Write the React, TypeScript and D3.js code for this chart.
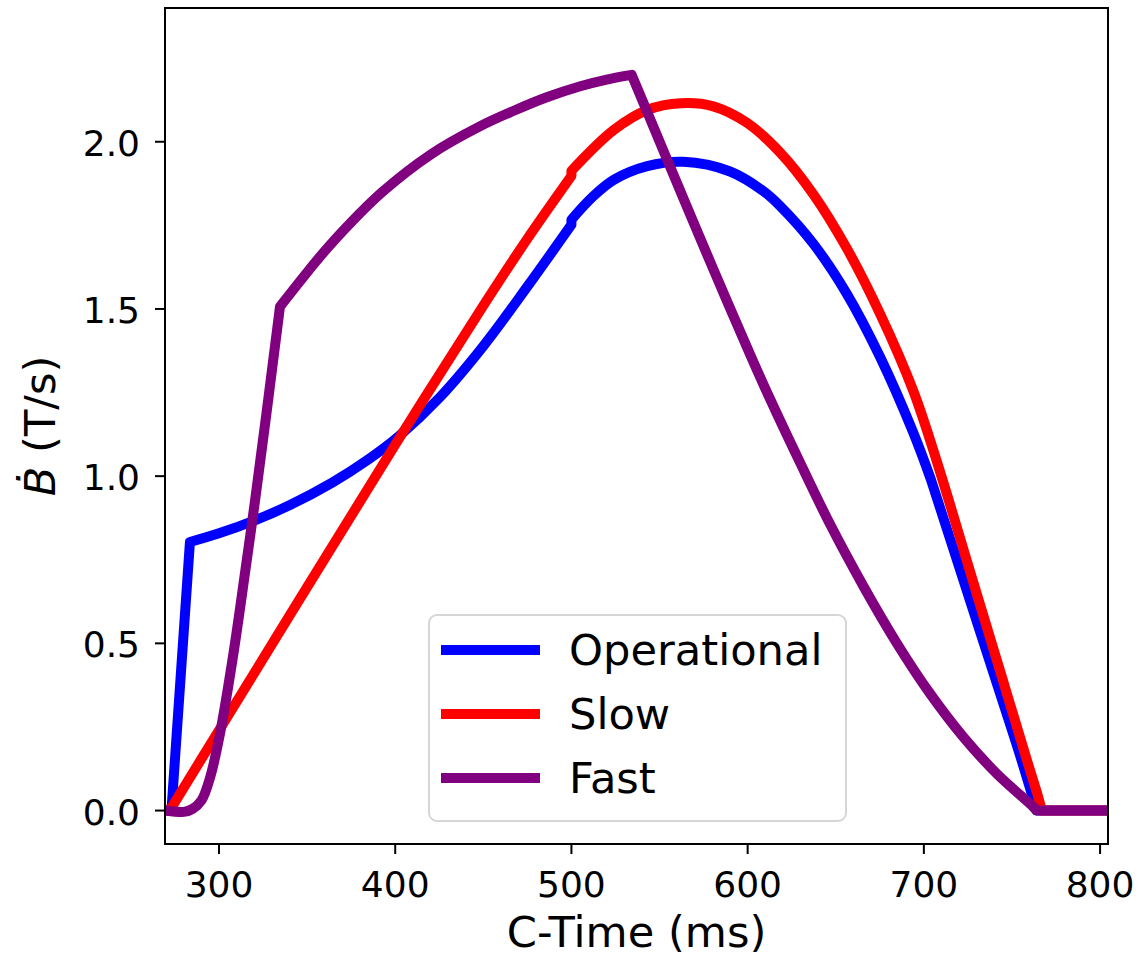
import React from "react";
import * as d3 from "d3";

// ---- data ----
const opTime = [270, 273, 283.5, 300, 320, 340, 364, 385, 402, 425, 450, 475, 500, 500, 512, 524, 543, 563.5, 590, 609, 618.4, 637.3, 656.2, 675.1, 694, 704, 720, 740, 755, 764, 805];
const opValue = [0, 0, 0.803, 0.829, 0.867, 0.913, 0.98, 1.051, 1.119, 1.234, 1.389, 1.567, 1.752, 1.767, 1.835, 1.886, 1.927, 1.94, 1.911, 1.852, 1.808, 1.695, 1.546, 1.357, 1.13, 0.99, 0.729, 0.403, 0.158, 0, 0];
const opCorners = [0, 1, 2, 12, 13, 25, 29, 30];

const slTime = [270, 272, 300, 350, 400, 450, 475, 500, 500, 524, 543, 562, 580.5, 599.5, 618.4, 637.3, 656.2, 675.1, 694, 707.3, 726.2, 745.1, 758.4, 764.5, 767, 805];
const slValue = [0, 0, 0.24, 0.668, 1.094, 1.51, 1.71, 1.898, 1.913, 2.035, 2.095, 2.115, 2.106, 2.057, 1.968, 1.843, 1.682, 1.486, 1.255, 1.045, 0.715, 0.385, 0.152, 0.048, 0, 0];
const slCorners = [0, 1, 7, 8, 23, 24, 25];

const faTime = [270, 280, 285, 290, 295, 300.6, 308.2, 315, 320.4, 326, 331.8, 334.6, 350.7, 364, 392.3, 420.7, 448, 467, 486, 505, 520, 534.2, 542.7, 561.6, 580.5, 601.4, 612.7, 629.7, 646.8, 665.7, 684.6, 703.5, 722.4, 741.4, 762.1, 764, 805];
const faValue = [0, -0.004, 0.005, 0.03, 0.1, 0.231, 0.47, 0.72, 0.925, 1.15, 1.39, 1.507, 1.614, 1.697, 1.848, 1.964, 2.046, 2.092, 2.133, 2.166, 2.186, 2.2, 2.093, 1.855, 1.619, 1.364, 1.231, 1.041, 0.856, 0.671, 0.501, 0.35, 0.22, 0.11, 0.011, 0, 0];
const faCorners = [0, 11, 21, 35, 36];

const seriesNames = ["Operational", "Slow", "Fast"];
const seriesColors = ["#0000ff", "#ff0000", "#800080"];

const xTicks = [300, 400, 500, 600, 700, 800];
const yTicks = [0, 0.5, 1.0, 1.5, 2.0];
const xLimits = [269.35, 804.5];
const yLimits = [-0.1, 2.4];

const W = 1140;
const H = 958;
const L = 165, R = 1108, T = 8, B = 844;
const FONT = "DejaVu Sans";
const TICK_FS = 36;
const LABEL_FS = 43.2;

export default function App() {
  const x = d3.scaleLinear().domain(xLimits).range([L, R]);
  const y = d3.scaleLinear().domain(yLimits).range([B, T]);

  const buildPath = (times: number[], values: number[], corners: number[]) => {
    const line = d3
      .line<number>()
      .x((i) => x(times[i]))
      .y((i) => y(values[i]))
      .curve(d3.curveCatmullRom.alpha(0.5));
    let d = "";
    for (let k = 0; k < corners.length - 1; k++) {
      const idx = d3.range(corners[k], corners[k + 1] + 1);
      const p = line(idx) || "";
      d += k === 0 ? p : p.replace(/^M/, "L");
    }
    return d;
  };

  const series = [
    { d: buildPath(opTime, opValue, opCorners) },
    { d: buildPath(slTime, slValue, slCorners) },
    { d: buildPath(faTime, faValue, faCorners) },
  ];

  const legendRowY = (i: number) => 650 + i * 64;

  return (
    <svg
      width={W}
      height={H}
      style={{ position: "absolute", left: 0, top: 0, background: "#fff" }}
      fontFamily={FONT}
    >
      <defs>
        <clipPath id="plotClip">
          <rect x={L} y={T} width={R - L} height={B - T} />
        </clipPath>
      </defs>
      <rect x={0} y={0} width={W} height={H} fill="#fff" />

      <g clipPath="url(#plotClip)">
        {series.map((s, i) => (
          <path
            key={i}
            d={s.d}
            fill="none"
            stroke={seriesColors[i]}
            strokeWidth={10}
            strokeLinejoin="round"
            strokeLinecap="square"
          />
        ))}
      </g>

      {/* frame */}
      <rect x={L} y={T} width={R - L} height={B - T} fill="none" stroke="#000" strokeWidth={2} />

      {/* x ticks */}
      {xTicks.map((t) => (
        <g key={"x" + t}>
          <line x1={x(t)} x2={x(t)} y1={B} y2={B + 10} stroke="#000" strokeWidth={2} />
          <text x={x(t)} y={897} textAnchor="middle" fontSize={TICK_FS} fill="#000">
            {t}
          </text>
        </g>
      ))}

      {/* y ticks */}
      {yTicks.map((t) => (
        <g key={"y" + t}>
          <line x1={L - 10} x2={L} y1={y(t)} y2={y(t)} stroke="#000" strokeWidth={2} />
          <text x={140} y={y(t) + 14} textAnchor="end" fontSize={TICK_FS} fill="#000">
            {t.toFixed(1)}
          </text>
        </g>
      ))}

      {/* axis labels */}
      <text x={(L + R) / 2} y={947} textAnchor="middle" fontSize={LABEL_FS} fill="#000">
        C-Time (ms)
      </text>
      <text
        transform={`translate(55, ${(T + B) / 2}) rotate(-90)`}
        textAnchor="middle"
        fontSize={LABEL_FS}
        fill="#000"
      >
        <tspan fontStyle="italic">Ḃ</tspan>
        <tspan> (T/s)</tspan>
      </text>

      {/* legend */}
      <rect
        x={429}
        y={615}
        width={417}
        height={206}
        rx={8}
        ry={8}
        fill="#fff"
        fillOpacity={0.8}
        stroke="#d6d6d6"
        strokeWidth={2}
      />
      {seriesNames.map((name, i) => (
        <g key={name}>
          <line
            x1={441}
            x2={540}
            y1={legendRowY(i)}
            y2={legendRowY(i)}
            stroke={seriesColors[i]}
            strokeWidth={10}
          />
          <text x={569} y={legendRowY(i) + 15} fontSize={LABEL_FS} fill="#000">
            {name}
          </text>
        </g>
      ))}
    </svg>
  );
}
